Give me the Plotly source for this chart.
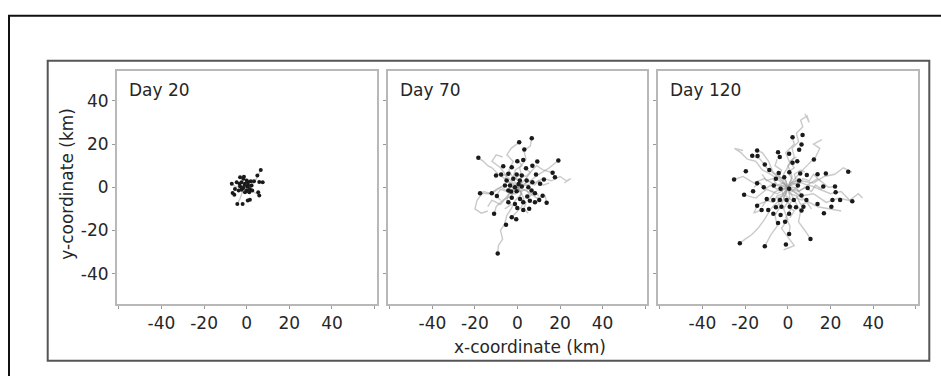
import plotly.graph_objects as go

W, H = 941, 376

# ---------------- data (km) ----------------
panel_titles = ["Day 20", "Day 70", "Day 120"]
tick_vals_x = [-60, -40, -20, 0, 20, 40, 60]
tick_text_x = ["", "-40", "-20", "0", "20", "40", ""]
tick_vals_y = [-40, -20, 0, 20, 40]
tick_text_y = ["-40", "-20", "0", "20", "40"]

day20_x = [6.6, 5.0, 3.4, 5.9, 7.5, 1.9, -7.0, 5.4, 5.9, -6.6, -5.8, -4.4, -1.9, 0.5, 1.5,
           -3.1, -1.6, 0.0, -2.4, -0.8, 0.7, -3.1, -1.6, 1.5, 0.0, -2.4, -0.8, 0.7, 2.3,
           -3.4, -1.3, 1.2, 2.6, -4.7, -5.5, -2.0, 0.3, -1.0, 1.0, -3.8]
day20_y = [8.0, 5.4, 2.8, 2.4, 2.3, 2.8, 1.6, -2.3, -3.8, -2.7, -3.5, -7.7, -7.7, -6.1, -5.8,
           4.6, 3.9, 3.1, 2.3, 1.6, 0.8, 0.3, -0.3, -0.8, -1.5, -1.2, -2.3, 2.3, 0.8,
           1.6, 4.9, -2.3, -1.5, 2.3, -0.8, -0.5, 0.2, 1.0, -1.8, -1.5]

day70_x = [6.7, 0.8, 3.2, -18.4, 19.2, -0.1, 2.7, 9.3, 7.0, -6.7, 4.0, -2.7, -7.7, -10.1,
           -4.3, -0.4, 2.0, 8.7, 16.5, 17.6, 12.4, -5.1, -2.0, 1.1, 4.3, 7.0, -5.9, -3.5,
           -1.2, 2.0, 5.1, 10.6, -4.3, -0.4, 6.6, -17.6, -12.1, -9.7, -2.7, 1.2, 4.6, 8.2,
           11.8, -4.3, -1.2, 2.7, 5.8, 10.2, 13.7, -0.1, 2.7, 5.5, 8.2, -11.0, -2.7, -0.6,
           -5.4, -9.3, -3.0, 0.5]
day70_y = [22.7, 20.8, 17.5, 13.6, 12.4, 12.0, 12.6, 11.9, 10.0, 9.7, 8.8, 9.3, 5.9, 5.4,
           6.2, 5.9, 5.4, 5.9, 6.7, 4.6, 3.6, 3.1, 3.9, 3.1, 3.1, 2.3, 0.8, 0.8,
           0.0, 0.3, 0.0, 1.6, -1.5, -1.8, -1.5, -2.8, -2.8, -4.0, -4.9, -5.4, -4.3, -2.8,
           -3.9, -6.9, -7.7, -6.9, -6.2, -5.9, -7.2, -9.6, -10.5, -10.0, -6.9, -12.3, -13.9, -14.8,
           -17.4, -30.6, -2.0, 1.5]

day120_x = [6.9, 2.2, 6.4, 5.3, -14.4, -16.7, -14.2, -4.6, 0.6, -3.8, 12.2, -10.8, 2.2, 4.4,
            -19.7, -8.7, 28.3, -25.2, -4.3, 0.7, 5.8, 8.9, 13.9, 17.8, -5.6, -1.7, 5.3,
            -14.4, -11.3, -6.6, -3.4, 0.6, 4.7, 9.3, 16.6, 22.1, -16.3, -20.5, 22.4,
            -9.9, -6.8, -3.7, -0.6, 2.8, 6.4, 8.7, 20.9, 24.5, 30.2, 13.9, 20.4,
            -14.4, -12.3, -9.2, -5.6, -3.0, 0.9, 3.8, 7.3, -6.8, -3.4, 0.6, 6.4, 16.9,
            -4.6, -1.3, 0.6, 10.6, -22.5, -10.8, -0.9]
day120_y = [24.2, 23.1, 19.8, 17.3, 17.0, 14.6, 14.4, 16.2, 15.5, 14.0, 12.8, 10.5, 11.3, 12.0,
            7.4, 8.0, 7.2, 3.6, 6.6, 6.9, 6.4, 5.7, 6.0, 6.4, 3.9, 4.6, 3.1,
            1.9, 0.0, 0.8, -0.7, -0.7, 0.8, -0.3, 0.3, 0.3, -1.8, -3.5, -2.3,
            -5.4, -5.9, -5.9, -5.9, -5.9, -3.8, -5.9, -5.9, -5.9, -6.5, -7.7, -9.0,
            -8.5, -10.5, -10.5, -9.3, -9.0, -9.0, -9.3, -9.0, -12.3, -12.8, -12.3, -10.8, -12.0,
            -16.5, -15.9, -21.6, -23.9, -25.9, -27.3, -26.5]

# approximate movement tracks (grey)
day20_tracks = [
    [(0, 0), (2, 1), (4, 3), (6.6, 8.0)],
    [(0, 0), (-2, -2), (-3, -5), (-4.4, -7.7)],
    [(0, 0), (-3, 1), (-5, 0), (-7.0, 1.6)],
    [(0, 0), (3, -2), (5.9, -3.8)],
]
day70_tracks = [
    [(0, 0), (-3, 2), (-6, 4), (-9, 6), (-12, 9), (-14, 10), (-16, 12), (-18.4, 13.6)],
    [(0, 0), (2, -3), (-1, -6), (-3, -10), (-5, -13), (-6, -17), (-8, -20), (-7, -24), (-9, -27), (-9.3, -30.6)],
    [(0, 0), (4, 1), (8, 2), (12, 4), (16, 3), (20, 5), (23, 3), (25, 4), (22, 2)],
    [(0, 0), (-4, -2), (-8, 0), (-12, -3), (-16, -2), (-19, -6), (-20, -10), (-17, -12), (-14, -11)],
    [(0, 0), (2, 5), (1, 9), (4, 13), (3, 17), (6, 19), (6.7, 22.7)],
    [(0, 0), (-2, 4), (-4, 8), (-2, 12), (-5, 15), (-3, 18), (0.8, 20.8)],
    [(0, 0), (5, -2), (9, -5), (13, -4), (13.7, -7.2)],
    [(0, 0), (-3, -4), (-7, -6), (-10, -9), (-11.0, -12.3)],
    [(0, 0), (6, 3), (10, 6), (15, 9), (19.2, 12.4)],
    [(0, 0), (-6, 1), (-10, -1), (-13, -3), (-17.6, -2.8)],
    [(0, 0), (3, -5), (2, -9), (-1, -12), (-2.7, -13.9)],
    [(0, 0), (-5, 5), (-8, 9), (-12, 12), (-10, 15), (-7, 14)],
    [(0, 0), (4, 4), (7, 8), (9, 10), (12, 8), (16.5, 6.7)],
    [(0, 0), (-4, -3), (-8, -8), (-12, -6), (-14, -9)],
    [(0, 0), (2, 2), (-1, 4), (1, 6), (4, 5), (6, 7), (3, 9)],
    [(0, 0), (-2, -1), (-3, 2), (-6, 3), (-5, 6), (-8, 5)],
    [(0, 0), (1, -2), (4, -1), (6, -4), (8, -2), (10, -4)],
    [(0, 0), (-1, -3), (-4, -3), (-5, -6), (-3, -8), (-6, -10)],
    [(0, 0), (3, 1), (5, 3), (8, 1), (10, 3), (12, 1), (15, 2)],
    [(0, 0), (-3, 0), (-5, -2), (-8, -1), (-10, -4), (-8, -6)],
    [(0, 0), (1, 3), (-2, 5), (-1, 8), (2, 10), (0, 13)],
    [(0, 0), (2, -2), (1, -5), (4, -7), (3, -10), (5, -12)],
]
day120_tracks = [
    [(0, 0), (2, 5), (0, 10), (3, 14), (2, 18), (5, 21), (4, 25), (7, 28), (6, 31), (9, 33), (10, 30), (8, 34)],
    [(0, 0), (-4, 3), (-8, 6), (-12, 8), (-15, 12), (-19, 13), (-22, 16), (-25, 18), (-21, 17)],
    [(0, 0), (5, -2), (10, 1), (15, -1), (20, -3), (25, -2), (29, -6), (33, -3), (35, -5)],
    [(0, 0), (1, -5), (-2, -10), (0, -15), (-3, -19), (0, -23), (3, -27), (-2, -29)],
    [(0, 0), (-4, -6), (-8, -10), (-11, -15), (-14, -19), (-17, -22), (-20, -24), (-22.5, -25.9)],
    [(0, 0), (-3, -8), (-6, -13), (-5, -18), (-8, -22), (-10.8, -27.3)],
    [(0, 0), (3, -6), (6, -11), (5, -16), (8, -20), (10.6, -23.9)],
    [(0, 0), (6, 3), (12, 2), (17, 5), (22, 6), (26, 9), (30, 7), (28.3, 7.2)],
    [(0, 0), (-6, 1), (-11, 4), (-16, 2), (-21, 5), (-25.2, 3.6)],
    [(0, 0), (5, 6), (9, 10), (13, 14), (15, 18), (12, 20), (16, 22)],
    [(0, 0), (-5, -3), (-10, -1), (-15, -5), (-20.5, -3.5)],
    [(0, 0), (6, -4), (12, -3), (18, -7), (24, -5), (30.2, -6.5)],
    [(0, 0), (8, -6), (14, -9), (20, -10), (25, -11)],
    [(0, 0), (-5, 5), (-10, 9), (-13, 13), (-16.7, 14.6)],
    [(0, 0), (-2, -5), (2, -9), (-1, -14), (1, -18), (0.6, -21.6)],
    [(0, 0), (-2, 6), (1, 11), (-1, 16), (3, 20), (2.2, 23.1)],
    [(0, 0), (-6, -2), (-9, -6), (-14, -8), (-16, -12), (-12.3, -10.5)],
    [(0, 0), (4, 3), (9, 1), (14, 4), (19, 0), (22.1, 0.3)],
    [(0, 0), (-3, 4), (-7, 7), (-9, 12), (-12, 16), (-14.4, 17.0)],
    [(0, 0), (2, 2), (5, 1), (7, 4), (10, 3), (12, 6), (14, 4)],
    [(0, 0), (-2, 2), (-5, 1), (-7, 4), (-10, 3), (-12, 6)],
    [(0, 0), (1, -3), (4, -4), (6, -8), (9, -7), (11, -10)],
    [(0, 0), (-2, -3), (-5, -4), (-7, -7), (-10, -6), (-12, -9)],
    [(0, 0), (2, 4), (0, 7), (3, 9), (1, 12), (4, 14)],
    [(0, 0), (-1, -4), (2, -6), (0, -9), (3, -11), (1, -14)],
    [(0, 0), (3, 0), (5, -2), (8, 0), (11, -2), (13, 1), (16, -1)],
    [(0, 0), (-3, 1), (-5, -1), (-8, 1), (-11, -1), (-13, 2), (-16, 0)],
    [(0, 0), (-1, 3), (-4, 5), (-3, 8), (-6, 10), (-5, 13)],
    [(0, 0), (2, -2), (4, 0), (6, -3), (4, -5), (7, -6)],
    [(0, 0), (-3, -1), (-2, -4), (-5, -5), (-4, -8), (-7, -9)],
    [(0, 0), (1, 2), (4, 3), (3, 6), (6, 8), (8, 7)],
]

points_x = [day20_x, day70_x, day120_x]
points_y = [day20_y, day70_y, day120_y]
tracks = [day20_tracks, day70_tracks, day120_tracks]
marker_sizes = [4, 4.5, 4.5]

# ---------------- layout geometry (pixels) ----------------
panel_left = [116.7, 387.7, 657.7]
panel_right = [376.7, 647.3, 918.0]
panel_top, panel_bottom = 70.5, 304.0

FONT = "DejaVu Sans"
TXT = "#262626"

fig = go.Figure()
for i in range(3):
    xa = "x" if i == 0 else f"x{i+1}"
    ya = "y" if i == 0 else f"y{i+1}"
    tx, ty = [], []
    for tr in tracks[i]:
        for (a, b) in tr:
            tx.append(a)
            ty.append(b)
        tx.append(None)
        ty.append(None)
    fig.add_trace(go.Scatter(x=tx, y=ty, mode="lines", xaxis=xa, yaxis=ya,
                             line=dict(color="rgba(150,150,150,0.5)", width=1.4, shape="linear"),
                             hoverinfo="skip", showlegend=False))
    fig.add_trace(go.Scatter(x=points_x[i], y=points_y[i], mode="markers", xaxis=xa, yaxis=ya,
                             marker=dict(color="#1a1a1a", size=marker_sizes[i], line=dict(width=0)),
                             showlegend=False))

axis_common = dict(ticks="outside", ticklen=3, tickcolor="#9a9a9a", tickwidth=1,
                   showline=True, mirror=True, linecolor="#b8b8b8", linewidth=1.5,
                   showgrid=False, zeroline=False,
                   tickfont=dict(family=FONT, size=17, color=TXT))

layout = dict(width=W, height=H, margin=dict(l=0, r=0, t=0, b=0),
              paper_bgcolor="white", plot_bgcolor="white", showlegend=False)
for i in range(3):
    xk = "xaxis" if i == 0 else f"xaxis{i+1}"
    yk = "yaxis" if i == 0 else f"yaxis{i+1}"
    layout[xk] = dict(axis_common, domain=[panel_left[i] / W, panel_right[i] / W],
                      range=[-61, 61], tickvals=tick_vals_x, ticktext=tick_text_x,
                      anchor="y" if i == 0 else f"y{i+1}")
    layout[yk] = dict(axis_common, domain=[1 - panel_bottom / H, 1 - panel_top / H],
                      range=[-54, 54], tickvals=tick_vals_y, ticktext=tick_text_y,
                      showticklabels=(i == 0),
                      anchor="x" if i == 0 else f"x{i+1}")
fig.update_layout(**layout)

annotations = []
for i in range(3):
    annotations.append(dict(xref="paper", yref="paper", x=(panel_left[i] + 10) / W, y=1 - 90 / H,
                            xanchor="left", yanchor="middle", showarrow=False,
                            text=panel_titles[i], font=dict(family=FONT, size=17, color=TXT)))
annotations.append(dict(xref="paper", yref="paper", x=66.7 / W, y=1 - 184 / H, textangle=-90,
                        xanchor="center", yanchor="middle", showarrow=False,
                        text="y-coordinate (km)", font=dict(family=FONT, size=17, color=TXT)))
annotations.append(dict(xref="paper", yref="paper", x=530 / W, y=1 - 346.7 / H,
                        xanchor="center", yanchor="middle", showarrow=False,
                        text="x-coordinate (km)", font=dict(family=FONT, size=17, color=TXT)))
fig.update_layout(annotations=annotations)

shapes = [
    dict(type="rect", xref="paper", yref="paper", x0=9 / W, x1=960 / W,
         y0=1 - 15.7 / H, y1=1 - 400 / H, line=dict(color="#111111", width=2)),
    dict(type="rect", xref="paper", yref="paper", x0=47.7 / W, x1=929.3 / W,
         y0=1 - 60.7 / H, y1=1 - 360.7 / H, line=dict(color="#555555", width=2)),
]
fig.update_layout(shapes=shapes)

fig.write_html("out.html", config={"displayModeBar": False},
               post_script="document.body.style.margin='0';document.body.style.overflow='hidden';")
